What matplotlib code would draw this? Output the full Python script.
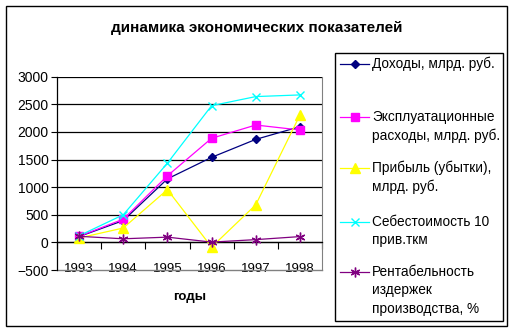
import matplotlib.pyplot as plt
from matplotlib.lines import Line2D
from matplotlib.patches import Rectangle

plt.rcParams['font.family'] = ['Liberation Sans', 'DejaVu Sans']

# годы и показатели
years = ['1993', '1994', '1995', '1996', '1997', '1998']
dohody = [105, 395, 1150, 1540, 1865, 2095]
expl_rashody = [110, 420, 1205, 1885, 2125, 2035]
pribyl = [80, 260, 955, -85, 680, 2305]
sebestoimost = [120, 500, 1435, 2475, 2640, 2670]
rentabelnost = [110, 65, 95, 5, 50, 105]

series = [
    (dohody, 'Доходы, млрд. руб.', '#000080', 'D', 4),
    (expl_rashody, 'Эксплуатационные\nрасходы, млрд. руб.', '#ff00ff', 's', 6),
    (pribyl, 'Прибыль (убытки),\nмлрд. руб.', '#ffff00', '^', 6.5),
    (sebestoimost, 'Себестоимость 10\nприв.ткм', '#00ffff', 'x', 6),
    (rentabelnost, 'Рентабельность\nиздержек\nпроизводства, %', '#800080', (6, 2, 0), 7),
]

W, H = 513, 330
fig = plt.figure(figsize=(W / 100, H / 100), dpi=100)

# рамка диаграммы
fig.add_artist(Rectangle((5.5 / W, 1 - 325.5 / H), 501 / W, 319.5 / H,
                         transform=fig.transFigure, fill=False,
                         edgecolor='black', lw=1.0))

ax = fig.add_axes([57 / W, 60 / H, 265 / W, 193.3 / H])
x = list(range(len(years)))
for vals, name, color, marker, ms in series:
    ax.plot(x, vals, color=color, lw=0.9, marker=marker, markersize=ms,
            markerfacecolor=color, markeredgecolor=color, markeredgewidth=1.0,
            zorder=3)

ax.set_xlim(-0.5, len(years) - 0.5)
ax.set_ylim(-500, 3000)
ax.set_yticks(range(-500, 3001, 500))
ax.tick_params(axis='y', length=4, width=0.8, labelsize=10, pad=2)
for yv in range(0, 3001, 500):
    ax.axhline(yv, color='black', lw=0.9, zorder=1)

# ось категорий проходит через ноль
ax.spines['bottom'].set_position(('data', 0))
ax.spines['bottom'].set_linewidth(0.9)
ax.set_xticks(x)
ax.set_xticklabels(years, fontsize=9.5)
ax.set_xticks([i + 0.5 for i in range(-1, len(years))], minor=True)
ax.tick_params(axis='x', which='major', length=0, pad=15)
ax.tick_params(axis='x', which='minor', length=5, width=0.8, direction='out')
ax.spines['left'].set_linewidth(0.9)
ax.spines['top'].set_visible(False)
ax.spines['right'].set_color('#808080')

# нижняя граница области построения
ax.plot([0, 1], [0, 0], transform=ax.transAxes, color='#808080', lw=1.0,
        clip_on=False, zorder=2)

fig.text(0.5, 1 - 28 / H, 'динамика экономических показателей',
         ha='center', va='center', fontsize=11, fontweight='bold')
fig.text(190 / W, 1 - 297 / H, 'годы', ha='center', va='center',
         fontsize=9.5, fontweight='bold')

# легенда
fig.add_artist(Rectangle((334.5 / W, 1 - 320.5 / H), 168 / W, 267.5 / H,
                         transform=fig.transFigure, fill=False,
                         edgecolor='black', lw=1.0))
entry_y = [64, 117, 168, 222, 272]
for (vals, name, color, marker, ms), ey in zip(series, entry_y):
    fy = 1 - ey / H
    fig.add_artist(Line2D([340 / W, 369 / W], [fy, fy], transform=fig.transFigure,
                          color=color, lw=0.9))
    fig.add_artist(Line2D([354.5 / W], [fy], transform=fig.transFigure,
                          color=color, marker=marker, markersize=ms,
                          markerfacecolor=color, markeredgecolor=color))
    fig.text(372 / W, fy + 7 / H, name, ha='left', va='top', fontsize=9.8,
             linespacing=1.4)

fig.savefig('out.png', dpi=100)
